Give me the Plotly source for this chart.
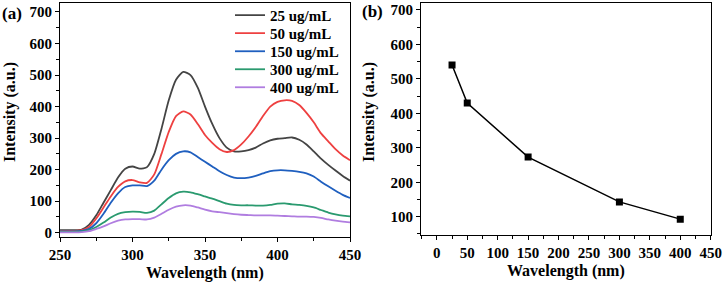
import plotly.graph_objects as go

# ---------------- data ----------------
wavelength = [250, 260, 265, 270, 275, 280, 285, 290, 295, 300, 305, 310, 315, 320, 325,
              330, 335, 340, 345, 350, 355, 360, 365, 370, 375, 380, 385, 390, 395, 400,
              405, 410, 415, 420, 425, 430, 435, 440, 445, 450]

c25 = [8, 8, 10, 25, 55, 95, 135, 175, 203, 210, 203, 208, 250, 330, 420,
       485, 510, 500, 460, 400, 345, 300, 270, 258, 258, 262, 270, 283, 293, 298,
       300, 302, 295, 280, 258, 235, 215, 197, 180, 165]
c50 = [6, 6, 8, 18, 45, 80, 115, 145, 163, 167, 160, 158, 185, 250, 320,
       370, 385, 375, 345, 310, 285, 265, 256, 262, 280, 305, 335, 370, 400, 415,
       420, 418, 405, 380, 350, 315, 290, 265, 245, 230]
c150 = [4, 4, 6, 12, 30, 60, 95, 125, 145, 150, 150, 148, 165, 200, 230,
        250, 258, 255, 240, 225, 210, 195, 183, 175, 173, 175, 180, 188, 195, 198,
        198, 196, 193, 188, 178, 162, 147, 133, 120, 110]
c300 = [3, 3, 4, 8, 18, 32, 48, 60, 65, 67, 66, 63, 70, 90, 110,
        125, 130, 128, 122, 115, 108, 100, 92, 88, 87, 87, 86, 86, 88, 92,
        93, 90, 88, 85, 80, 72, 64, 58, 54, 52]
c400 = [1, 1, 2, 5, 12, 20, 30, 38, 42, 43, 43, 42, 48, 60, 73,
        83, 87, 86, 80, 73, 68, 65, 62, 59, 57, 56, 55, 55, 55, 54,
        53, 52, 51, 51, 50, 47, 42, 38, 35, 33]

series_names = ["25 ug/mL", "50 ug/mL", "150 ug/mL", "300 ug/mL", "400 ug/mL"]
series_vals = [c25, c50, c150, c300, c400]
series_colors = ["#444444", "#ee4040", "#1f5fbf", "#2a9a6f", "#b07de0"]

conc = [25, 50, 150, 300, 400]
peak_intensity = [540, 430, 273, 143, 93]

# ---------------- figure ----------------
W, H = 724, 284
FONT = "Liberation Serif"

def px_x(p):
    return p / W

def px_y(p):
    return 1 - p / H

legend_ids = ["legend", "legend2", "legend3", "legend4", "legend5"]
legend_rows = [15.3, 33.3, 51.5, 69.5, 87.5]

fig = go.Figure()
for name, vals, col, lid in zip(series_names, series_vals, series_colors, legend_ids):
    fig.add_trace(go.Scatter(x=wavelength, y=vals, mode="lines", name=name, legend=lid,
                             line=dict(color=col, width=1.8, shape="spline", smoothing=0.6),
                             xaxis="x", yaxis="y"))

fig.add_trace(go.Scatter(x=conc, y=peak_intensity, mode="lines+markers", showlegend=False,
                         line=dict(color="black", width=1.5),
                         marker=dict(symbol="square", size=7, color="black"),
                         xaxis="x2", yaxis="y2"))

axis_common = dict(showline=True, linecolor="black", linewidth=1, mirror=True,
                   ticks="outside", ticklen=4, tickwidth=1, tickcolor="black",
                   showgrid=False, zeroline=False, automargin=False,
                   tickfont=dict(family=FONT, size=15, color="black", weight="bold"))

layout_legends = {}
for lid, row in zip(legend_ids, legend_rows):
    layout_legends[lid] = dict(x=px_x(230), y=px_y(row), xanchor="left", yanchor="middle",
                               bgcolor="rgba(0,0,0,0)", borderwidth=0,
                               font=dict(family=FONT, size=15, color="black", weight="bold"))

fig.update_layout(
    width=W, height=H,
    margin=dict(l=0, r=0, t=0, b=0, autoexpand=False),
    paper_bgcolor="white", plot_bgcolor="white",
    font=dict(family=FONT, color="black"),
    xaxis=dict(domain=[px_x(60), px_x(350)], range=[250, 450], dtick=50, tick0=250,
               minor=dict(ticks="outside", dtick=25, ticklen=3, tickcolor="black"),
               anchor="y", **axis_common),
    yaxis=dict(domain=[px_y(237), px_y(3)], range=[-13.6, 728.5], dtick=100, tick0=0,
               minor=dict(ticks="outside", dtick=50, ticklen=3, tickcolor="black"),
               anchor="x", **axis_common),
    xaxis2=dict(domain=[px_x(421), px_x(710.7)], range=[-26, 450], dtick=50, tick0=0,
                minor=dict(ticks="outside", dtick=25, ticklen=3, tickcolor="black"),
                anchor="y2", **axis_common),
    yaxis2=dict(domain=[px_y(235), px_y(3)], range=[47, 720], dtick=100, tick0=0,
                minor=dict(ticks="outside", dtick=50, ticklen=3, tickcolor="black"),
                anchor="x2", **axis_common),
    showlegend=True,
    **layout_legends,
)

title_font = dict(family=FONT, size=16, color="black", weight="bold")
annotations = [
    dict(text="Wavelength (nm)", x=px_x(205), y=px_y(273), xref="paper", yref="paper",
         xanchor="center", yanchor="middle", showarrow=False, font=title_font),
    dict(text="Wavelength (nm)", x=px_x(566), y=px_y(271), xref="paper", yref="paper",
         xanchor="center", yanchor="middle", showarrow=False, font=title_font),
    dict(text="Intensity (a.u.)", x=px_x(10), y=px_y(112), xref="paper", yref="paper",
         xanchor="center", yanchor="middle", showarrow=False, textangle=-90, font=title_font),
    dict(text="Intensity (a.u.)", x=px_x(369), y=px_y(112), xref="paper", yref="paper",
         xanchor="center", yanchor="middle", showarrow=False, textangle=-90, font=title_font),
    dict(text="(a)", x=px_x(0), y=px_y(13), xref="paper", yref="paper",
         xanchor="left", yanchor="middle", showarrow=False,
         font=dict(family=FONT, size=17, color="black", weight="bold")),
    dict(text="(b)", x=px_x(360), y=px_y(12), xref="paper", yref="paper",
         xanchor="left", yanchor="middle", showarrow=False,
         font=dict(family=FONT, size=17, color="black", weight="bold")),
]
fig.update_layout(annotations=annotations)

fig.write_html("out.html", config={"displayModeBar": False},
               post_script="document.body.style.margin='0px';document.body.style.padding='0px';")
